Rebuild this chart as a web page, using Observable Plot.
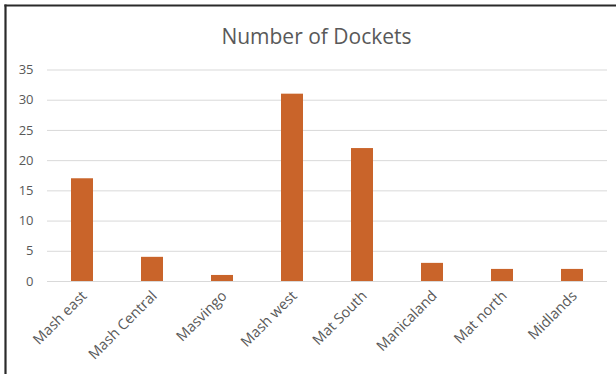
<!DOCTYPE html>
<html>
<head>
<meta charset="utf-8">
<script src="https://cdn.jsdelivr.net/npm/d3@7"></script>
<script src="https://cdn.jsdelivr.net/npm/@observablehq/plot@0.6"></script>
<style>
  html, body { margin: 0; padding: 0; background: #fff; }
  #chart { width: 616px; height: 374px; }
  #chart svg { display: block; }
</style>
</head>
<body>
<div id="chart"></div>
<script>
// Dockets per province
const title = "Number of Dockets";
const regions = ["Mash east", "Mash Central", "Masvingo", "Mash west", "Mat South", "Manicaland", "Mat north", "Midlands"];
const dockets = [17, 4, 1, 31, 22, 3, 2, 2];
const yTicks = [0, 5, 10, 15, 20, 25, 30, 35];

const rows = regions.map((r, i) => ({region: r, dockets: dockets[i]}));

const chart = Plot.plot({
  width: 616,
  height: 374,
  marginLeft: 47,
  marginRight: 9,
  marginTop: 69.5,
  marginBottom: 93,
  style: {fontFamily: "'Open Sans', sans-serif", background: "#fff", color: "#595959"},
  x: {domain: regions, paddingInner: 0.686, paddingOuter: 0.343, align: 0.5},
  y: {domain: [0, 35]},
  marks: [
    // dark frame edge along the top and left of the panel
    Plot.frame({anchor: "top", stroke: "#2a2a2a", strokeWidth: 2.2, insetTop: -64.5, insetLeft: -42, insetRight: -10}),
    Plot.frame({anchor: "left", stroke: "#2a2a2a", strokeWidth: 2.2, insetTop: -64.5, insetLeft: -42, insetBottom: -95}),
    Plot.gridY(yTicks, {stroke: "#d9d9d9", strokeOpacity: 1, strokeWidth: 1}),
    Plot.axisY(yTicks, {tickSize: 0, tickPadding: 14, fontSize: 13, fill: "#595959", label: null}),
    Plot.barY(rows, {x: "region", y: "dockets", fill: "#c9642a"}),
    Plot.axisX({tickSize: 0, tickRotate: -45, tickPadding: 12, dx: 2, fontSize: 14.5, fill: "#595959", label: null}),
    Plot.text([title], {frameAnchor: "top", lineAnchor: "middle", dx: -11, dy: -33, fontSize: 21, fill: "#595959", text: d => d})
  ]
});

document.getElementById("chart").appendChild(chart);
</script>
</body>
</html>
